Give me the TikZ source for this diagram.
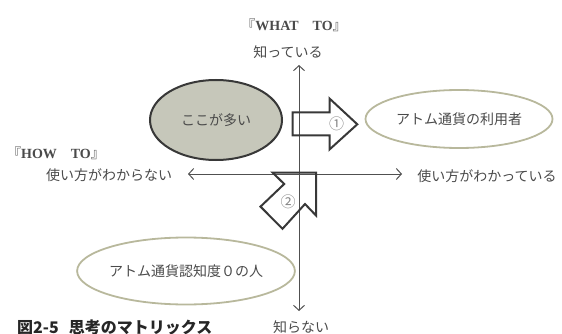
\documentclass[tikz,border=0pt]{standalone}
\usepackage{fontspec}
\setmainfont{Liberation Serif}
\newfontfamily\cjk{Noto Sans CJK JP}
\usetikzlibrary{shapes.geometric,arrows.meta}
\definecolor{txt}{HTML}{4A4A4A}
\definecolor{axisc}{HTML}{505050}
\definecolor{darkfill}{HTML}{C6C7BA}
\definecolor{darkline}{HTML}{383838}
\definecolor{khaki}{HTML}{B8B89C}
\definecolor{numc}{HTML}{858585}
\tikzset{
  lbl/.style={text=txt, inner sep=0pt, font=\fontsize{14}{16}\selectfont\cjk},
  axisline/.style={draw=axisc, line width=1pt, {Straight Barb[length=5pt,width=11pt]}-{Straight Barb[length=5pt,width=11pt]}},
  darkell/.style={ellipse, draw=darkline, fill=darkfill, line width=2pt, inner sep=0pt, text=txt, font=\fontsize{14}{16}\selectfont\cjk},
  lightell/.style={ellipse, draw=khaki, line width=1.8pt, inner sep=0pt, text=txt, font=\fontsize{14}{16}\selectfont\cjk},
  blockarrow/.style={draw=darkline, line width=2pt, line join=miter},
  numlbl/.style={text=numc, inner sep=0pt, font=\fontsize{15}{17}\selectfont\cjk},
}
\begin{document}
\begin{tikzpicture}[x=1pt,y=-1pt]
\useasboundingbox (0,0) rectangle (562,334);
% axes
\coordinate (top) at (299,65);
\coordinate (bottom) at (299,311);
\coordinate (left) at (188,174);
\coordinate (right) at (402,174);
\draw[axisline] (left) -- (right);
\draw[axisline] (bottom) -- (top);
% ellipses
\node[darkell, minimum width=132, minimum height=80] (many) at (216,120) {ここが多い};
\node[lightell, minimum width=187, minimum height=58] (users) at (459,119) {アトム通貨の利用者};
\node[lightell, minimum width=187, minimum height=67] (zero) at (186,271) {アトム通貨認知度０の人};
% block arrow 1
\coordinate (a1) at (292.7,112.5);
\coordinate (a2) at (329.5,112.5);
\coordinate (a3) at (329.5,98.5);
\coordinate (a4) at (357.3,124.3);
\coordinate (a5) at (329.5,149.5);
\coordinate (a6) at (329.5,135.5);
\coordinate (a7) at (292.7,135.5);
\draw[blockarrow] (a1) -- (a2) -- (a3) -- (a4) -- (a5) -- (a6) -- (a7) -- cycle;
\node[numlbl] (n1) at (336.5,124) {①};
% block arrow 2
\coordinate (b1) at (316,172.5);
\coordinate (b2) at (316,215.5);
\coordinate (b3) at (305,204);
\coordinate (b4) at (282.5,228.8);
\coordinate (b5) at (260.5,206.6);
\coordinate (b6) at (284.2,184);
\coordinate (b7) at (272.5,172.5);
\draw[blockarrow] (b1) -- (b2) -- (b3) -- (b4) -- (b5) -- (b6) -- (b7) -- cycle;
\node[numlbl] (n2) at (288,202) {②};
% labels
\node[lbl] (whatto) at (294,25) {『{\rmfamily\bfseries WHAT}　{\rmfamily\bfseries TO}』};
\node[lbl] (knows) at (288,52) {知っている};
\node[lbl] (howto) at (56,153) {『{\rmfamily\bfseries HOW}　{\rmfamily\bfseries TO}』};
\node[lbl] (nohow) at (109,175) {使い方がわからない};
\node[lbl] (yeshow) at (487,176) {使い方がわかっている};
\node[lbl] (noknow) at (301,327) {知らない};
\node[text=black!85, inner sep=0pt, anchor=west, font=\fontsize{16}{18}\selectfont\cjk\bfseries] (caption) at (17,327) {図2-5\hspace{10pt}思考のマトリックス};
\end{tikzpicture}
\end{document}
